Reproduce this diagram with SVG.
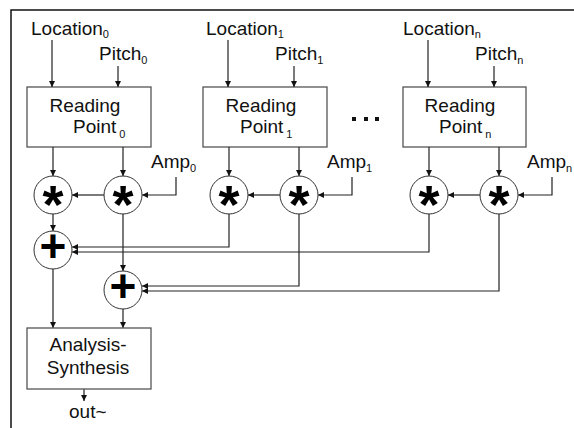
<svg xmlns="http://www.w3.org/2000/svg" width="574" height="428" viewBox="0 0 574 428">
  <style>
    .lbl { font-family: "Liberation Sans", Arial, sans-serif; font-size: 19px; fill: #111; }
    .sub { font-size: 11px; }
    .box { fill: #fff; stroke: #555; stroke-width: 1.3; }
    .op { fill: #fff; stroke: #333; stroke-width: 1; }
    .star { font-family: "Liberation Sans", Arial, sans-serif; font-weight: bold; font-size: 54px; text-anchor: middle; fill: #000; }
    .plus { font-family: "Liberation Sans", Arial, sans-serif; font-weight: bold; font-size: 46px; text-anchor: middle; fill: #000; }
    .wire { fill: none; stroke: #222; stroke-width: 1.2; }
    .arr { marker-end: url(#head); }
  </style>
  <defs>
    <marker id="head" viewBox="0 0 10 10" refX="10" refY="5" markerWidth="6" markerHeight="6" markerUnits="userSpaceOnUse" orient="auto">
      <path d="M0,0 L10,5 L0,10 z" fill="#111"/>
    </marker>
  </defs>

  <rect width="574" height="428" fill="#fff"/>
  <!-- frame -->
  <path d="M11,428 V10 H574" fill="none" stroke="#111" stroke-width="1.5"/>

  <!-- inputs -->
  <g id="inputs">
    <text class="lbl" x="31" y="35">Location<tspan class="sub" dy="3">0</tspan></text>
    <text class="lbl" x="99" y="60">Pitch<tspan class="sub" dy="4">0</tspan></text>
    <text class="lbl" x="151" y="168">Amp<tspan class="sub" dy="4">0</tspan></text>
    <text class="lbl" x="206" y="35">Location<tspan class="sub" dy="3">1</tspan></text>
    <text class="lbl" x="275" y="60">Pitch<tspan class="sub" dy="4">1</tspan></text>
    <text class="lbl" x="327" y="168">Amp<tspan class="sub" dy="4">1</tspan></text>
    <text class="lbl" x="403" y="35">Location<tspan class="sub" dy="3">n</tspan></text>
    <text class="lbl" x="475" y="60">Pitch<tspan class="sub" dy="4">n</tspan></text>
    <text class="lbl" x="527" y="168">Amp<tspan class="sub" dy="4">n</tspan></text>
  </g>

  <!-- reading points -->
  <g id="rp0">
    <rect class="box" x="27" y="87" width="124" height="60"/>
    <text class="lbl" x="85" y="112" text-anchor="middle">Reading</text>
    <text class="lbl" x="73" y="133">Point<tspan class="sub" dx="3" dy="5">0</tspan></text>
  </g>
  <g id="rp1">
    <rect class="box" x="203" y="87" width="124" height="60"/>
    <text class="lbl" x="261" y="112" text-anchor="middle">Reading</text>
    <text class="lbl" x="240" y="133">Point<tspan class="sub" dx="3" dy="5">1</tspan></text>
  </g>
  <g id="rpn">
    <rect class="box" x="403" y="87" width="123" height="60"/>
    <text class="lbl" x="460" y="112" text-anchor="middle">Reading</text>
    <text class="lbl" x="439" y="133">Point<tspan class="sub" dx="3" dy="5">n</tspan></text>
  </g>

  <!-- ellipsis -->
  <g id="ellipsis" fill="#111">
    <rect x="352" y="117" width="4" height="4"/>
    <rect x="364" y="117" width="4" height="4"/>
    <rect x="375" y="117" width="4" height="4"/>
  </g>

  <!-- connectors -->
  <g id="connectors">
    <path class="wire arr" d="M52,40 V87"/>
    <path class="wire arr" d="M118,66 V87"/>
    <path class="wire arr" d="M228,40 V87"/>
    <path class="wire arr" d="M294,66 V87"/>
    <path class="wire arr" d="M428,40 V87"/>
    <path class="wire arr" d="M494,66 V87"/>

    <path class="wire arr" d="M53,147 V176"/>
    <path class="wire arr" d="M123,147 V176"/>
    <path class="wire arr" d="M229,147 V176"/>
    <path class="wire arr" d="M299,147 V176"/>
    <path class="wire arr" d="M429,147 V176"/>
    <path class="wire arr" d="M499,147 V176"/>

    <path class="wire arr" d="M176,177 V195 H142"/>
    <path class="wire arr" d="M352,177 V195 H318"/>
    <path class="wire arr" d="M552,177 V195 H518"/>

    <path class="wire arr" d="M104,195 H72"/>
    <path class="wire arr" d="M280,195 H248"/>
    <path class="wire arr" d="M480,195 H448"/>

    <path class="wire arr" d="M53,214 V231"/>
    <path class="wire arr" d="M123,214 V271"/>

    <path class="wire arr" d="M229,214 V247 H72"/>
    <path class="wire arr" d="M429,214 V252 H72"/>
    <path class="wire arr" d="M299,214 V286 H142"/>
    <path class="wire arr" d="M499,214 V291 H142"/>

    <path class="wire arr" d="M53,269 V328"/>
    <path class="wire arr" d="M123,309 V328"/>
    <path class="wire arr" d="M84,389 V401"/>
  </g>

  <!-- multipliers -->
  <g id="mul0a"><circle class="op" cx="53" cy="195" r="19"/><text class="star" x="53" y="222.5">*</text></g>
  <g id="mul0b"><circle class="op" cx="123" cy="195" r="19"/><text class="star" x="123" y="222.5">*</text></g>
  <g id="mul1a"><circle class="op" cx="229" cy="195" r="19"/><text class="star" x="229" y="222.5">*</text></g>
  <g id="mul1b"><circle class="op" cx="299" cy="195" r="19"/><text class="star" x="299" y="222.5">*</text></g>
  <g id="mulna"><circle class="op" cx="429" cy="195" r="19"/><text class="star" x="429" y="222.5">*</text></g>
  <g id="mulnb"><circle class="op" cx="499" cy="195" r="19"/><text class="star" x="499" y="222.5">*</text></g>

  <!-- adders -->
  <g id="add0"><circle class="op" cx="53" cy="250" r="19"/><text class="plus" x="53" y="261.5">+</text></g>
  <g id="add1"><circle class="op" cx="123" cy="290" r="19"/><text class="plus" x="123" y="301.5">+</text></g>

  <!-- analysis-synthesis -->
  <g id="analysis">
    <rect class="box" x="27" y="328" width="124" height="61"/>
    <text class="lbl" x="88" y="351" text-anchor="middle">Analysis-</text>
    <text class="lbl" x="88" y="374" text-anchor="middle">Synthesis</text>
  </g>
  <g id="out">
    <text class="lbl" x="69" y="418">out~</text>
  </g>
</svg>
